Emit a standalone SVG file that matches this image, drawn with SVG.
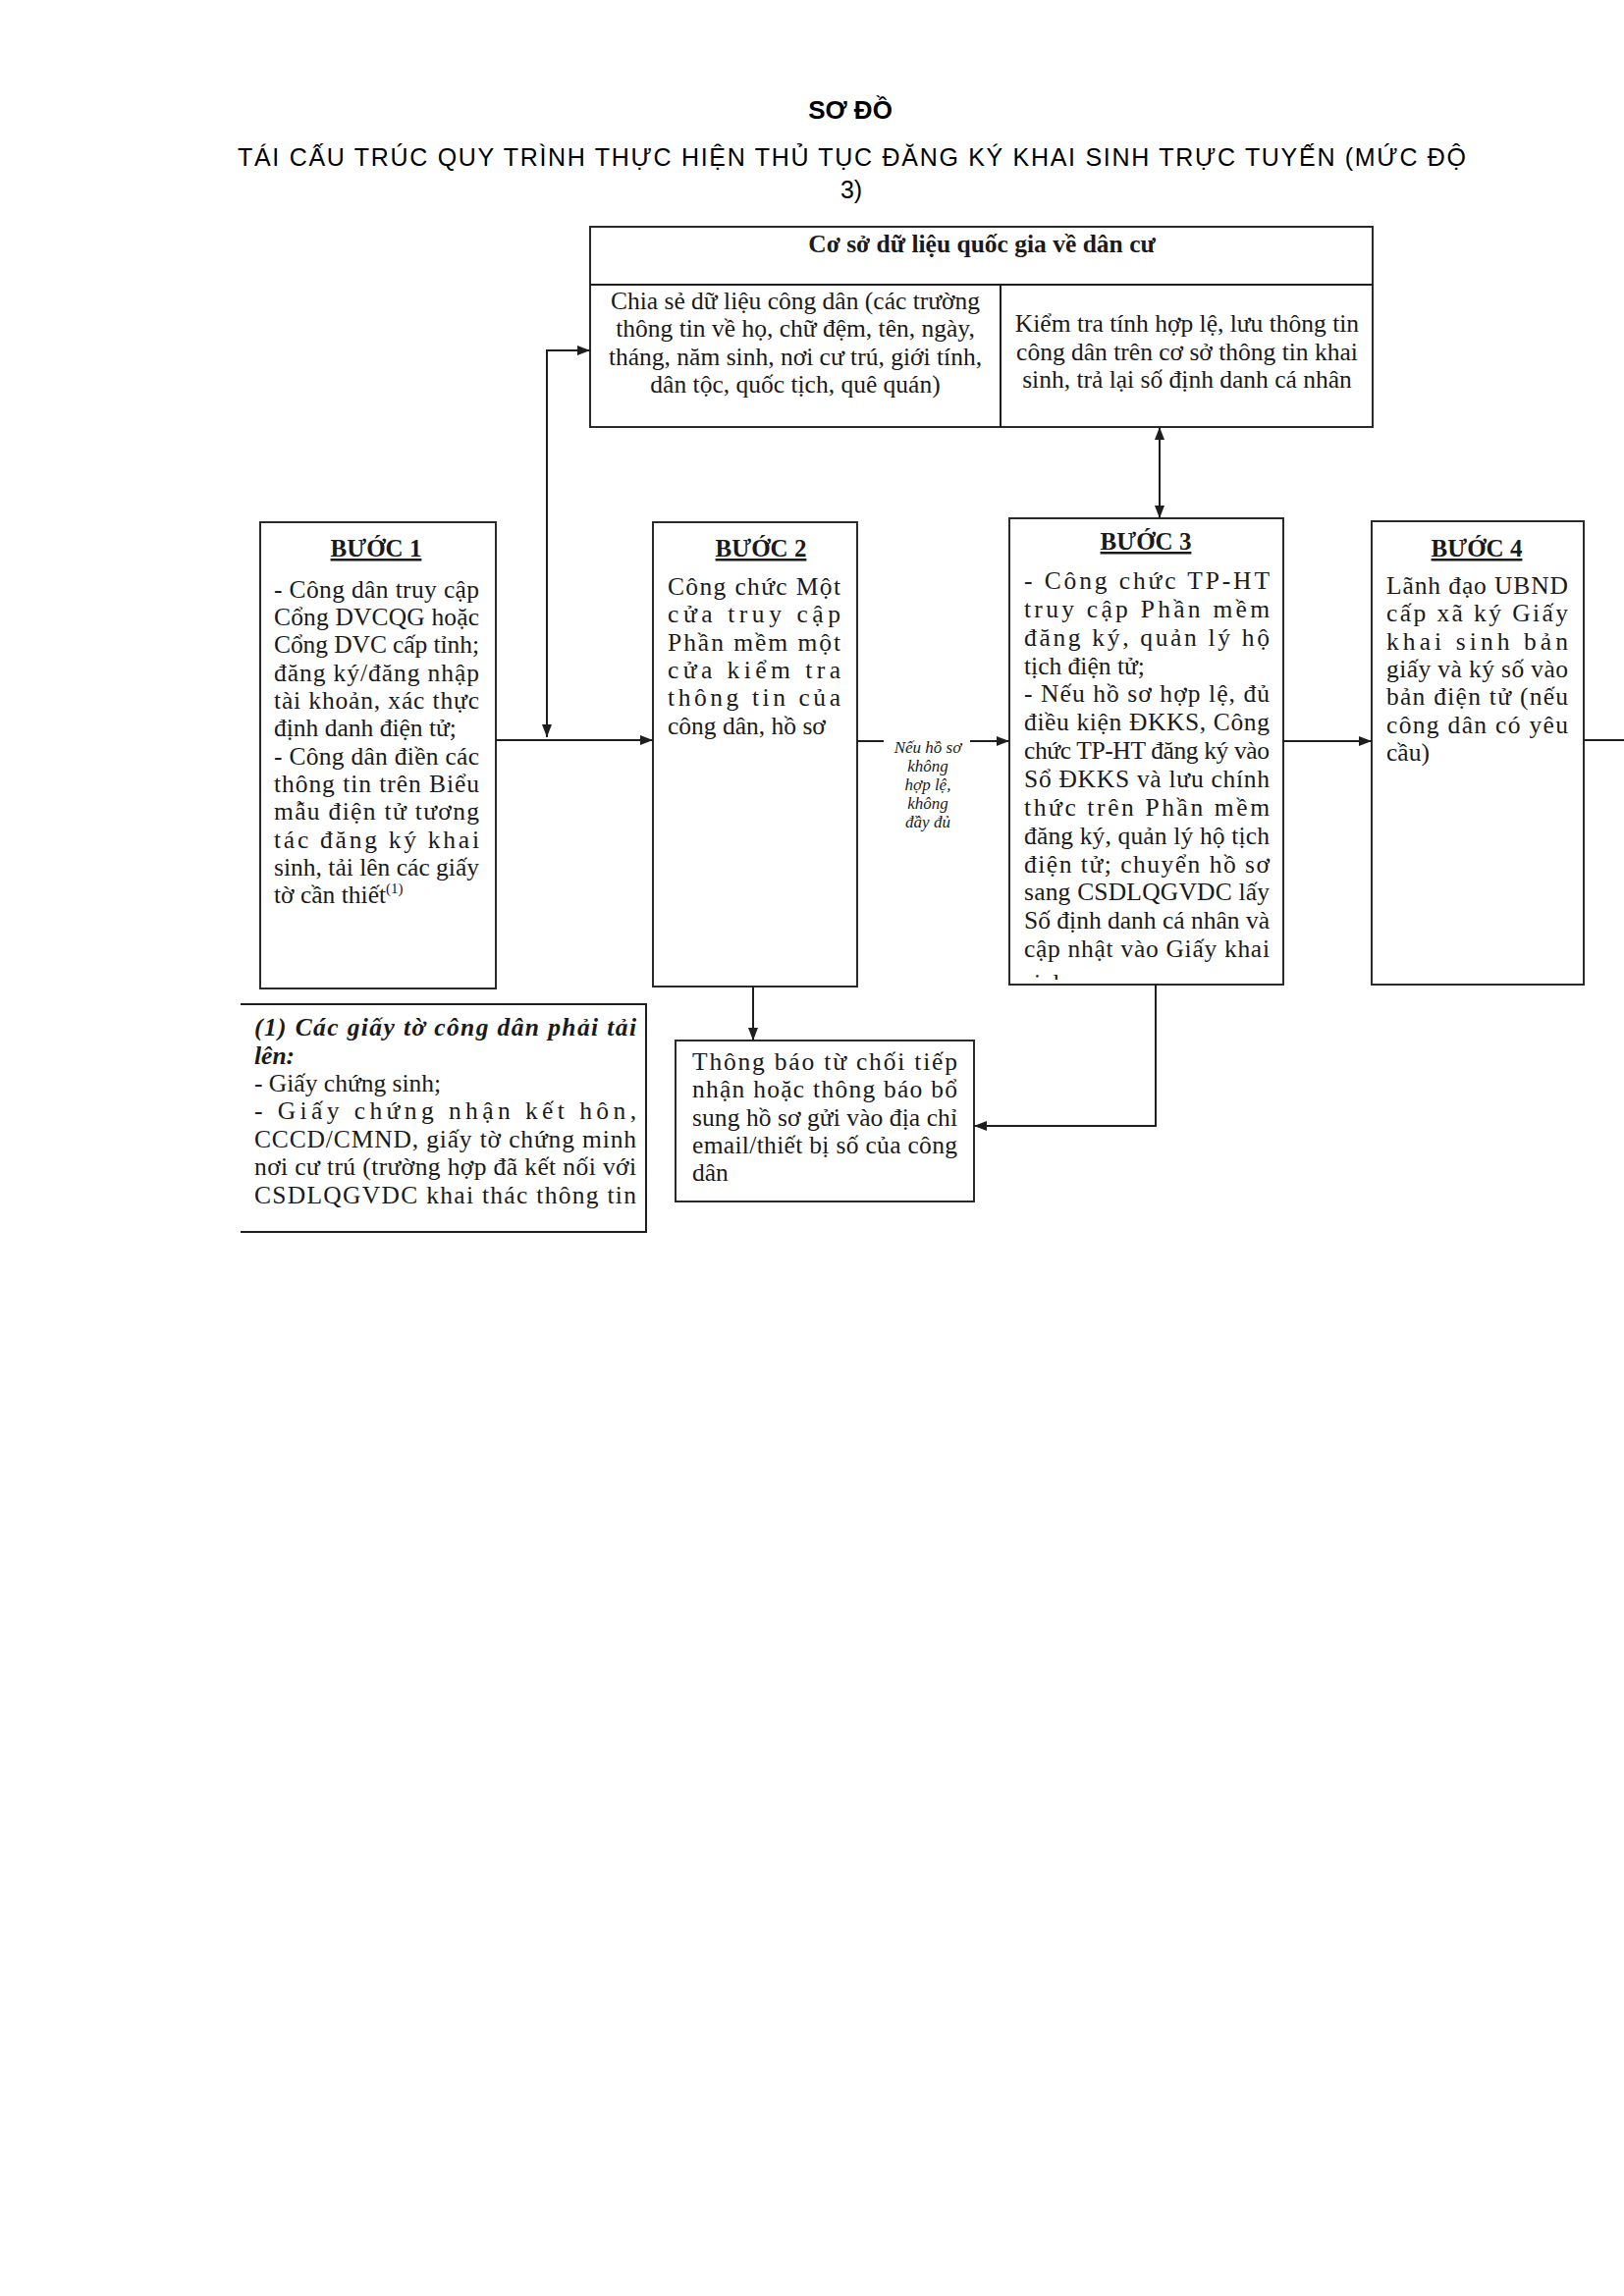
<svg xmlns="http://www.w3.org/2000/svg" width="1654" height="2339" viewBox="0 0 1654 2339">
<style>
.t{font-family:"Liberation Serif","Times New Roman",serif;font-size:25.5px;fill:#1a1a1a}
.h{font-family:"Liberation Serif","Times New Roman",serif;font-size:25px;font-weight:bold;fill:#1a1a1a;text-anchor:middle;text-decoration:underline}
.c{text-anchor:middle}
.b{font-weight:bold}
.bi{font-weight:bold;font-style:italic}
.lbl{font-family:"Liberation Serif","Times New Roman",serif;font-size:17px;font-style:italic;fill:#1a1a1a;text-anchor:middle}
.box{fill:#fff;stroke:#2a2a2a;stroke-width:2}
.ln{fill:none;stroke:#1e1e1e;stroke-width:2}
.ti{font-family:"Liberation Sans",Arial,sans-serif;fill:#000}
</style>
<defs>
<marker id="ah" markerUnits="userSpaceOnUse" markerWidth="13" markerHeight="10" refX="13" refY="5" orient="auto-start-reverse">
<path d="M0,0 L13,5 L0,10 z" fill="#1e1e1e"/>
</marker>
<clipPath id="clipB3"><rect x="1028" y="528" width="278" height="470"/></clipPath>
</defs>
<rect width="1654" height="2339" fill="#fff"/>

<g id="title">
<text class="ti b" x="866" y="121" font-size="26" text-anchor="middle">SƠ ĐỒ</text>
<text class="ti" x="242" y="169" font-size="25" textLength="1251" lengthAdjust="spacing">TÁI CẤU TRÚC QUY TRÌNH THỰC HIỆN THỦ TỤC ĐĂNG KÝ KHAI SINH TRỰC TUYẾN (MỨC ĐỘ</text>
<text class="ti" x="867" y="202" font-size="25" text-anchor="middle">3)</text>
</g>

<g id="csdl">
<rect class="box" x="601" y="231" width="797" height="204"/>
<line class="ln" x1="601" y1="290" x2="1398" y2="290"/>
<line class="ln" x1="1019" y1="290" x2="1019" y2="435"/>
<text class="t b c" x="1000" y="257">Cơ sở dữ liệu quốc gia về dân cư</text>
<text class="t c" x="810" y="315">Chia sẻ dữ liệu công dân (các trường</text>
<text class="t c" x="810" y="343">thông tin về họ, chữ đệm, tên, ngày,</text>
<text class="t c" x="810" y="372">tháng, năm sinh, nơi cư trú, giới tính,</text>
<text class="t c" x="810" y="400">dân tộc, quốc tịch, quê quán)</text>
<text class="t c" x="1209" y="338">Kiểm tra tính hợp lệ, lưu thông tin</text>
<text class="t c" x="1209" y="367">công dân trên cơ sở thông tin khai</text>
<text class="t c" x="1209" y="395">sinh, trả lại số định danh cá nhân</text>
</g>

<g id="buoc1">
<rect class="box" x="265" y="532" width="240" height="475"/>
<text class="h" x="383" y="567">BƯỚC 1</text>
<text class="t" x="279" y="609" textLength="209" lengthAdjust="spacing">- Công dân truy cập</text>
<text class="t" x="279" y="637" textLength="209" lengthAdjust="spacing">Cổng DVCQG hoặc</text>
<text class="t" x="279" y="665" textLength="209" lengthAdjust="spacing">Cổng DVC cấp tỉnh;</text>
<text class="t" x="279" y="694" textLength="209" lengthAdjust="spacing">đăng ký/đăng nhập</text>
<text class="t" x="279" y="722" textLength="209" lengthAdjust="spacing">tài khoản, xác thực</text>
<text class="t" x="279" y="750">định danh điện tử;</text>
<text class="t" x="279" y="779" textLength="209" lengthAdjust="spacing">- Công dân điền các</text>
<text class="t" x="279" y="807" textLength="209" lengthAdjust="spacing">thông tin trên Biểu</text>
<text class="t" x="279" y="835" textLength="209" lengthAdjust="spacing">mẫu điện tử tương</text>
<text class="t" x="279" y="864" textLength="209" lengthAdjust="spacing">tác đăng ký khai</text>
<text class="t" x="279" y="892" textLength="209" lengthAdjust="spacing">sinh, tải lên các giấy</text>
<text class="t" x="279" y="920">tờ cần thiết<tspan font-size="15" dy="-10">(1)</tspan></text>
</g>

<g id="buoc2">
<rect class="box" x="665" y="532" width="208" height="473"/>
<text class="h" x="775" y="567">BƯỚC 2</text>
<text class="t" x="680" y="606" textLength="176" lengthAdjust="spacing">Công chức Một</text>
<text class="t" x="680" y="634" textLength="176" lengthAdjust="spacing">cửa truy cập</text>
<text class="t" x="680" y="663" textLength="176" lengthAdjust="spacing">Phần mềm một</text>
<text class="t" x="680" y="691" textLength="176" lengthAdjust="spacing">cửa kiểm tra</text>
<text class="t" x="680" y="719" textLength="176" lengthAdjust="spacing">thông tin của</text>
<text class="t" x="680" y="748">công dân, hồ sơ</text>
</g>

<g id="buoc3">
<rect class="box" x="1028" y="528" width="279" height="475"/>
<text class="h" x="1167" y="560">BƯỚC 3</text>
<text class="t" x="1043" y="600" textLength="250" lengthAdjust="spacing">- Công chức TP-HT</text>
<text class="t" x="1043" y="629" textLength="250" lengthAdjust="spacing">truy cập Phần mềm</text>
<text class="t" x="1043" y="658" textLength="250" lengthAdjust="spacing">đăng ký, quản lý hộ</text>
<text class="t" x="1043" y="687">tịch điện tử;</text>
<text class="t" x="1043" y="715" textLength="250" lengthAdjust="spacing">- Nếu hồ sơ hợp lệ, đủ</text>
<text class="t" x="1043" y="744" textLength="250" lengthAdjust="spacing">điều kiện ĐKKS, Công</text>
<text class="t" x="1043" y="773" textLength="250" lengthAdjust="spacing">chức TP-HT đăng ký vào</text>
<text class="t" x="1043" y="802" textLength="250" lengthAdjust="spacing">Sổ ĐKKS và lưu chính</text>
<text class="t" x="1043" y="831" textLength="250" lengthAdjust="spacing">thức trên Phần mềm</text>
<text class="t" x="1043" y="860" textLength="250" lengthAdjust="spacing">đăng ký, quản lý hộ tịch</text>
<text class="t" x="1043" y="889" textLength="250" lengthAdjust="spacing">điện tử; chuyển hồ sơ</text>
<text class="t" x="1043" y="917" textLength="250" lengthAdjust="spacing">sang CSDLQGVDC lấy</text>
<text class="t" x="1043" y="946" textLength="250" lengthAdjust="spacing">Số định danh cá nhân và</text>
<text class="t" x="1043" y="975" textLength="250" lengthAdjust="spacing">cập nhật vào Giấy khai</text>
<text class="t" x="1043" y="1010" clip-path="url(#clipB3)">sinh</text>
</g>

<g id="buoc4">
<rect class="box" x="1397" y="531" width="216" height="472"/>
<text class="h" x="1504" y="567">BƯỚC 4</text>
<text class="t" x="1412" y="605" textLength="185" lengthAdjust="spacing">Lãnh đạo UBND</text>
<text class="t" x="1412" y="633" textLength="185" lengthAdjust="spacing">cấp xã ký Giấy</text>
<text class="t" x="1412" y="662" textLength="185" lengthAdjust="spacing">khai sinh bản</text>
<text class="t" x="1412" y="690" textLength="185" lengthAdjust="spacing">giấy và ký số vào</text>
<text class="t" x="1412" y="718" textLength="185" lengthAdjust="spacing">bản điện tử (nếu</text>
<text class="t" x="1412" y="747" textLength="185" lengthAdjust="spacing">công dân có yêu</text>
<text class="t" x="1412" y="775">cầu)</text>
</g>

<g id="ghichu">
<path class="ln" d="M245,1023 H658 V1255 H245"/>
<text class="t bi" x="259" y="1055" textLength="389" lengthAdjust="spacing">(1) Các giấy tờ công dân phải tải</text>
<text class="t bi" x="259" y="1084">lên:</text>
<text class="t" x="259" y="1112">- Giấy chứng sinh;</text>
<text class="t" x="259" y="1140" textLength="389" lengthAdjust="spacing">- Giấy chứng nhận kết hôn,</text>
<text class="t" x="259" y="1169" textLength="389" lengthAdjust="spacing">CCCD/CMND, giấy tờ chứng minh</text>
<text class="t" x="259" y="1197" textLength="389" lengthAdjust="spacing">nơi cư trú (trường hợp đã kết nối với</text>
<text class="t" x="259" y="1226" textLength="389" lengthAdjust="spacing">CSDLQGVDC khai thác thông tin</text>
</g>

<g id="thongbao">
<rect class="box" x="688" y="1060" width="304" height="164"/>
<text class="t" x="705" y="1090" textLength="270" lengthAdjust="spacing">Thông báo từ chối tiếp</text>
<text class="t" x="705" y="1118" textLength="270" lengthAdjust="spacing">nhận hoặc thông báo bổ</text>
<text class="t" x="705" y="1147" textLength="270" lengthAdjust="spacing">sung hồ sơ gửi vào địa chỉ</text>
<text class="t" x="705" y="1175" textLength="270" lengthAdjust="spacing">email/thiết bị số của công</text>
<text class="t" x="705" y="1203">dân</text>
</g>

<g id="connectors">
<line class="ln" x1="505" y1="754" x2="665" y2="754" marker-end="url(#ah)"/>
<path class="ln" d="M557,751 V357 H601" marker-start="url(#ah)" marker-end="url(#ah)"/>
<line class="ln" x1="873" y1="755" x2="900" y2="755"/>
<line class="ln" x1="988" y1="755" x2="1028" y2="755" marker-end="url(#ah)"/>
<text class="lbl" x="945" y="767">Nếu hồ sơ</text>
<text class="lbl" x="945" y="786">không</text>
<text class="lbl" x="945" y="805">hợp lệ,</text>
<text class="lbl" x="945" y="824">không</text>
<text class="lbl" x="945" y="843">đầy đủ</text>
<line class="ln" x1="1181" y1="435" x2="1181" y2="528" marker-start="url(#ah)" marker-end="url(#ah)"/>
<line class="ln" x1="1307" y1="755" x2="1397" y2="755" marker-end="url(#ah)"/>
<line class="ln" x1="1613" y1="754" x2="1654" y2="754"/>
<line class="ln" x1="767" y1="1005" x2="767" y2="1060" marker-end="url(#ah)"/>
<path class="ln" d="M1177,1003 V1147 H992" marker-end="url(#ah)"/>
</g>
</svg>
